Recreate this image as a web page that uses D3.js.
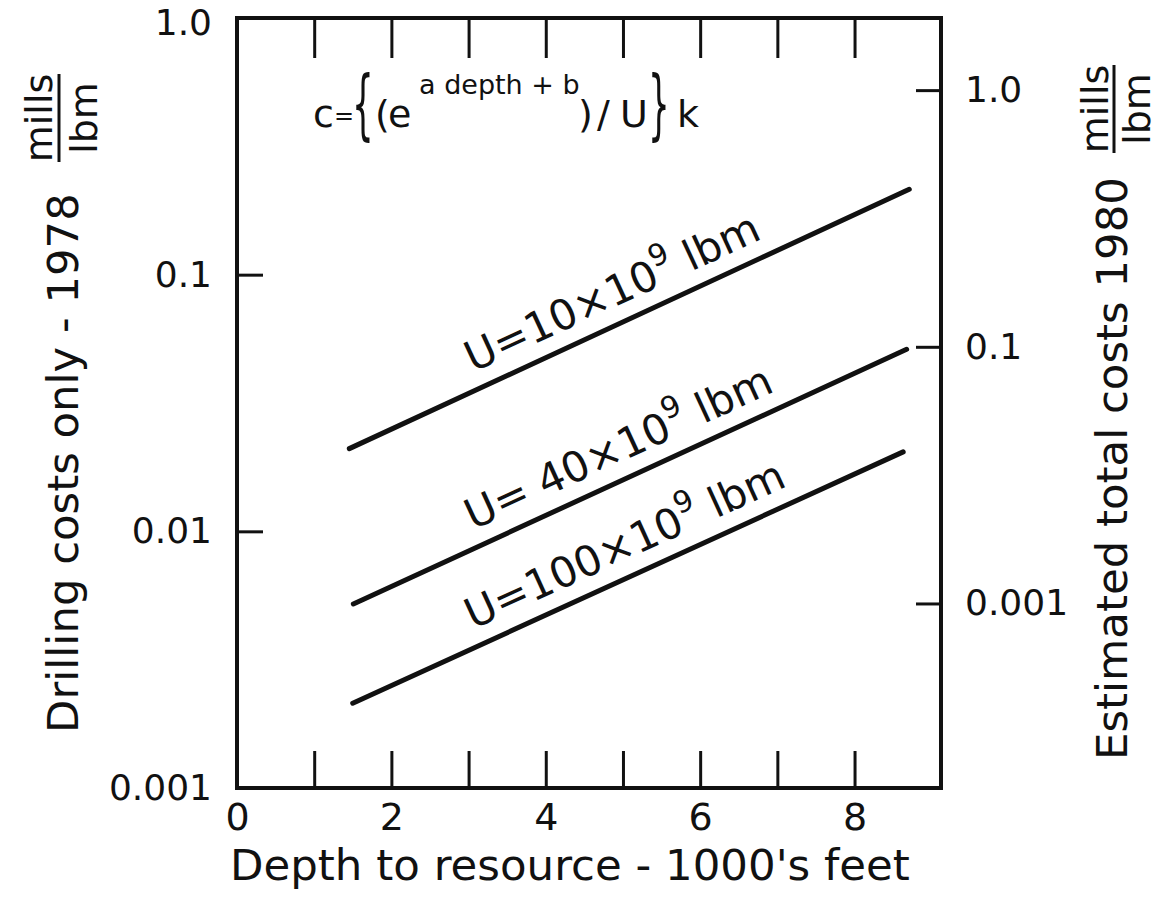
<!DOCTYPE html>
<html>
<head>
<meta charset="utf-8">
<script src="https://cdn.jsdelivr.net/npm/d3@7"></script>
<style>
body { margin: 0; background: #fff; }
text { font-family: "DejaVu Sans", sans-serif; fill: #111; }
</style>
</head>
<body>
<svg id="chart" width="1159" height="914"></svg>
<script>
/* values */
var depthLabelTicks = [0, 2, 4, 6, 8];
var depthTicks = [0, 1, 2, 3, 4, 5, 6, 7, 8];
var leftTickValues = [0.001, 0.01, 0.1, 1];
var leftTickLabels = ["0.001", "0.01", "0.1", "1.0"];
var rightTickValues = [1, 0.1, 0.01];
var rightTickLabels = ["1.0", "0.1", "0.001"];
var rightFactor = 1.91;   // right axis = left axis value * this

var resourceU = ["10", " 40", "100"];
var lineDepthStart = [1.455, 1.507, 1.499];
var lineDepthEnd = [8.709, 8.675, 8.63];
var costStart = [0.0210, 0.00521, 0.00214];
var costEnd = [0.215, 0.0512, 0.0204];
var labelDepth = [3.15, 3.15, 3.15];

var svg = d3.select("#chart");
var plotL = 237, plotR = 941, plotT = 18, plotB = 788;

var x = d3.scaleLinear().domain([0, 9.12]).range([plotL, plotR]);
var y = d3.scaleLog().domain([0.001, 1]).range([plotB, plotT]);
var yRight = d3.scaleLog().domain([0.001 * rightFactor, 1 * rightFactor]).range([plotB, plotT]);

function styleAxis(g, size) {
  g.attr("font-size", size).attr("font-family", "DejaVu Sans, sans-serif");
  g.select(".domain").remove();
  g.selectAll(".tick line").attr("stroke", "#111").attr("stroke-width", 3);
  g.selectAll(".tick text").attr("fill", "#111");
}

// ticks, all pointing inward
svg.append("g").attr("transform", "translate(0," + plotB + ")")
  .call(d3.axisBottom(x).tickValues(depthTicks).tickSize(-37).tickPadding(15)
    .tickFormat(function(d) { return depthLabelTicks.indexOf(d) >= 0 ? d : ""; }))
  .call(styleAxis, 38);

svg.append("g").attr("transform", "translate(0," + plotT + ")")
  .call(d3.axisTop(x).tickValues(depthTicks.slice(1)).tickSize(-40).tickFormat(""))
  .call(styleAxis, 34);

var leftAxis = svg.append("g").attr("transform", "translate(" + plotL + ",0)")
  .call(d3.axisLeft(y).tickValues(leftTickValues).tickSize(-26).tickPadding(25)
    .tickFormat(function(d) { return leftTickLabels[leftTickValues.indexOf(d)]; }))
  .call(styleAxis, 36);
// top label sits a little below the corner, as in the figure
leftAxis.selectAll(".tick text").filter(function(d) { return d === 1; }).attr("dy", "0.45em");

svg.append("g").attr("transform", "translate(" + plotR + ",0)")
  .call(d3.axisRight(yRight).tickValues(rightTickValues).tickSize(-25).tickPadding(24)
    .tickFormat(function(d) { return rightTickLabels[rightTickValues.indexOf(d)]; }))
  .call(styleAxis, 36);

// frame
svg.append("rect")
  .attr("x", plotL).attr("y", plotT)
  .attr("width", plotR - plotL).attr("height", plotB - plotT)
  .attr("fill", "none").attr("stroke", "#111").attr("stroke-width", 4);

// lines
var line = d3.line().x(function(d) { return x(d[0]); }).y(function(d) { return y(d[1]); });

resourceU.forEach(function(u, i) {
  var pts = [[lineDepthStart[i], costStart[i]], [lineDepthEnd[i], costEnd[i]]];
  svg.append("path").attr("d", line(pts))
    .attr("fill", "none").attr("stroke", "#111")
    .attr("stroke-width", 5).attr("stroke-linecap", "round");

  var x0 = x(pts[0][0]), y0 = y(pts[0][1]), x1 = x(pts[1][0]), y1 = y(pts[1][1]);
  var ang = Math.atan2(y1 - y0, x1 - x0) * 180 / Math.PI;
  var lx = x(labelDepth[i]);
  var ly = y0 + (lx - x0) / (x1 - x0) * (y1 - y0);
  var t = svg.append("text")
    .attr("transform", "translate(" + lx + "," + ly + ") rotate(" + ang + ") translate(0,-17)")
    .attr("font-size", 42);
  t.append("tspan").text("U=" + u + "×10");
  t.append("tspan").attr("dy", -19).attr("font-size", 30).text("9");
  t.append("tspan").attr("dy", 19).text(" lbm");
});

// formula
var f = svg.append("g");
f.append("text").attr("x", 313).attr("y", 127).attr("font-size", 38).text("c");
f.append("text").attr("x", 334).attr("y", 124).attr("font-size", 24).text("=");
f.append("text").attr("transform", "translate(352,130) scale(0.45,1)").attr("font-size", 76).text("{");
f.append("text").attr("x", 375).attr("y", 127).attr("font-size", 38).text("(");
f.append("text").attr("x", 388).attr("y", 127).attr("font-size", 38).text("e");
f.append("text").attr("x", 419).attr("y", 94).attr("font-size", 27).text("a depth + b");
f.append("text").attr("x", 578).attr("y", 127).attr("font-size", 38).text(")");
f.append("text").attr("x", 597).attr("y", 127).attr("font-size", 38).text("/");
f.append("text").attr("x", 620).attr("y", 127).attr("font-size", 38).text("U");
f.append("text").attr("transform", "translate(648,130) scale(0.45,1)").attr("font-size", 76).text("}");
f.append("text").attr("x", 677).attr("y", 127).attr("font-size", 38).text("k");

function fitWidth(sel, target) {
  var w = sel.node().getComputedTextLength();
  sel.attr("font-size", parseFloat(sel.attr("font-size")) * target / w);
}

// axis titles
var xt = svg.append("text").attr("x", 230).attr("y", 880).attr("font-size", 44)
  .text("Depth to resource - 1000's feet");
fitWidth(xt, 680);

var lt = svg.append("text").attr("transform", "translate(78,733) rotate(-90)")
  .attr("font-size", 44).text("Drilling costs only - 1978");
fitWidth(lt, 540);

var rt = svg.append("text").attr("transform", "translate(1127,760) rotate(-90)")
  .attr("font-size", 44).text("Estimated total costs 1980");
fitWidth(rt, 583);

function units(xTop, xBottom, xBar, yMid, yA, yB) {
  svg.append("text").attr("transform", "translate(" + xTop + "," + yMid + ") rotate(-90)")
    .attr("text-anchor", "middle").attr("font-size", 38).text("mills");
  svg.append("text").attr("transform", "translate(" + xBottom + "," + yMid + ") rotate(-90)")
    .attr("text-anchor", "middle").attr("font-size", 38).text("lbm");
  svg.append("line").attr("x1", xBar).attr("x2", xBar).attr("y1", yA).attr("y2", yB)
    .attr("stroke", "#111").attr("stroke-width", 3);
}
units(52, 97, 59, 118, 74, 162);
units(1108, 1150, 1114, 109, 65, 153);
</script>
</body>
</html>
